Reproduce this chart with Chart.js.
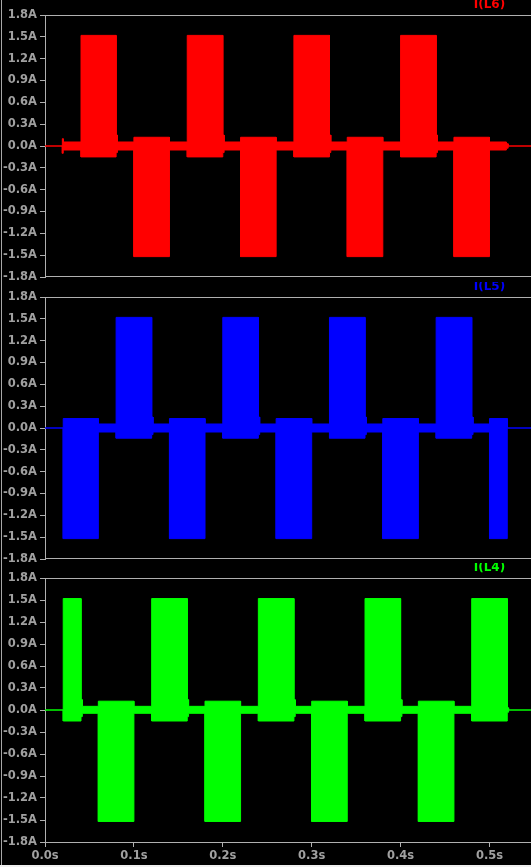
<!DOCTYPE html>
<html><head><meta charset="utf-8">
<script src="https://cdn.jsdelivr.net/npm/chart.js@4.4.1/dist/chart.umd.min.js"></script>
<style>
html,body{margin:0;padding:0;background:#000;width:531px;height:867px;overflow:hidden;position:relative}
canvas{position:absolute;left:0}
#lb{position:absolute;left:1px;top:0;width:1px;height:865px;background:#a8a8a8;z-index:5}
#bb{position:absolute;left:0;top:865px;width:531px;height:2px;background:#f0f0f0;z-index:5}
</style></head><body>
<canvas id="c6" width="531" height="287" style="top:0px"></canvas>
<canvas id="c5" width="531" height="287" style="top:282px"></canvas>
<canvas id="c4" width="531" height="304" style="top:563px"></canvas>
<div id="lb"></div><div id="bb"></div>
<script>
// ---- axis ticks ----
const yTickValues = [-1.8, -1.5, -1.2, -0.9, -0.6, -0.3, 0.0, 0.3, 0.6, 0.9, 1.2, 1.5, 1.8];
const xTickValues = [0.0, 0.1, 0.2, 0.3, 0.4, 0.5];
const xMax = 0.5467;

// ---- I(L6) envelope: segment edges (s), max and min current (A) per segment ----
const l6Edges = [0, 0.0195, 0.0205, 0.0405, 0.080, 0.0815, 0.100, 0.140, 0.160, 0.200, 0.2015, 0.220, 0.260, 0.280, 0.320, 0.3215, 0.340, 0.380, 0.400, 0.440, 0.4415, 0.460, 0.500, 0.519, 0.521, 0.547];
const l6Max   = [0, 0.10, 0.055, 1.52, 0.15, 0.055, 0.12, 0.055, 1.52, 0.15, 0.055, 0.12, 0.055, 1.52, 0.15, 0.055, 0.12, 0.055, 1.52, 0.15, 0.055, 0.12, 0.055, 0.03, 0.0];
const l6Min   = [0, -0.10, -0.055, -0.15, -0.09, -0.055, -1.52, -0.055, -0.15, -0.09, -0.055, -1.52, -0.055, -0.15, -0.09, -0.055, -1.52, -0.055, -0.15, -0.09, -0.055, -1.52, -0.055, -0.03, 0.0];

// ---- I(L5) ----
const l5Edges = [0, 0.0205, 0.060, 0.080, 0.120, 0.1215, 0.140, 0.180, 0.200, 0.240, 0.2415, 0.260, 0.300, 0.320, 0.360, 0.3615, 0.380, 0.420, 0.440, 0.480, 0.4815, 0.500, 0.520, 0.547];
const l5Max   = [0, 0.13, 0.055, 1.52, 0.15, 0.055, 0.13, 0.055, 1.52, 0.15, 0.055, 0.13, 0.055, 1.52, 0.15, 0.055, 0.13, 0.055, 1.52, 0.15, 0.055, 0.13, 0.0];
const l5Min   = [0, -1.52, -0.055, -0.14, -0.09, -0.055, -1.52, -0.055, -0.14, -0.09, -0.055, -1.52, -0.055, -0.14, -0.09, -0.055, -1.52, -0.055, -0.14, -0.09, -0.055, -1.52, 0.0];

// ---- I(L4) ----
const l4Edges = [0, 0.0205, 0.0405, 0.042, 0.060, 0.100, 0.120, 0.160, 0.1615, 0.180, 0.220, 0.240, 0.280, 0.2815, 0.300, 0.340, 0.360, 0.400, 0.4015, 0.420, 0.460, 0.480, 0.520, 0.5215, 0.547];
const l4Max   = [0, 1.52, 0.14, 0.05, 0.12, 0.05, 1.52, 0.14, 0.05, 0.12, 0.05, 1.52, 0.14, 0.05, 0.12, 0.05, 1.52, 0.14, 0.05, 0.12, 0.05, 1.52, 0.03, 0.0];
const l4Min   = [0, -0.15, -0.09, -0.045, -1.52, -0.045, -0.15, -0.09, -0.045, -1.52, -0.045, -0.15, -0.09, -0.045, -1.52, -0.045, -0.15, -0.09, -0.045, -1.52, -0.045, -0.15, -0.03, 0.0];

const AXIS = '#b0b0b0';
const TEXT = '#a0a0a0';
const FONT = { family: 'DejaVu Sans', weight: 'bold', size: 11.5 };

function envelope(edges, vals) {
  const pts = [];
  for (let i = 0; i < vals.length; i++) {
    pts.push({ x: edges[i], y: vals[i] });
    pts.push({ x: edges[i + 1], y: vals[i] });
  }
  return pts;
}
function fmt(v, unit) {
  if (Math.abs(v) < 1e-9) v = 0;
  return v.toFixed(1) + unit;
}

const framePlugin = {
  id: 'frame',
  afterDraw(chart, args, opts) {
    const { ctx, chartArea: a } = chart;
    ctx.save();
    ctx.strokeStyle = AXIS;
    ctx.lineWidth = 1;
    ctx.beginPath();
    ctx.moveTo(a.left, a.top + 0.5); ctx.lineTo(a.right, a.top + 0.5);
    if (!opts.showX) { ctx.moveTo(a.left, a.bottom - 0.5); ctx.lineTo(a.right, a.bottom - 0.5); }
    ctx.stroke();
    ctx.fillStyle = opts.color;
    ctx.font = 'bold 12px "DejaVu Sans"';
    ctx.textAlign = 'center';
    ctx.textBaseline = 'middle';
    ctx.fillText(opts.label, chart.scales.x.getPixelForValue(0.5), a.top - 10);
    ctx.restore();
  }
};

function makeChart(id, edges, maxV, minV, color, label, showX) {
  new Chart(document.getElementById(id), {
    type: 'line',
    data: {
      datasets: [
        { data: envelope(edges, maxV), borderColor: color, backgroundColor: color, borderWidth: 1, pointRadius: 0, fill: '+1', tension: 0 },
        { data: envelope(edges, minV), borderColor: color, backgroundColor: color, borderWidth: 1, pointRadius: 0, fill: false, tension: 0 }
      ]
    },
    options: {
      responsive: false,
      animation: false,
      devicePixelRatio: 1,
      layout: { padding: { top: 15, bottom: showX ? 0 : 10, left: 0, right: 0 } },
      plugins: { legend: { display: false }, tooltip: { enabled: false }, frame: { label, color, showX } },
      scales: {
        x: {
          type: 'linear', min: 0, max: xMax,
          display: showX,
          afterBuildTicks: s => { s.ticks = xTickValues.map(v => ({ value: v })); },
          afterFit: s => { s.height = showX ? 25 : 0; },
          grid: { display: true, drawOnChartArea: false, drawTicks: true, tickLength: 5, color: AXIS, tickColor: AXIS },
          border: { display: true, color: AXIS, width: 1 },
          ticks: { color: TEXT, font: FONT, padding: 2, autoSkip: false, maxRotation: 0, callback: v => fmt(v, 's') }
        },
        y: {
          type: 'linear', min: -1.8, max: 1.8,
          afterBuildTicks: s => { s.ticks = yTickValues.map(v => ({ value: v })); },
          afterFit: s => { s.width = 45; },
          grid: { display: true, drawOnChartArea: false, drawTicks: true, tickLength: 5, color: AXIS, tickColor: AXIS },
          border: { display: true, color: AXIS, width: 1 },
          ticks: { color: TEXT, font: FONT, padding: 3, autoSkip: false, callback: v => fmt(v, 'A') }
        }
      }
    },
    plugins: [framePlugin]
  });
}

makeChart('c6', l6Edges, l6Max, l6Min, '#ff0000', 'I(L6)', false);
makeChart('c5', l5Edges, l5Max, l5Min, '#0000ff', 'I(L5)', false);
makeChart('c4', l4Edges, l4Max, l4Min, '#00ff00', 'I(L4)', true);
</script>
</body></html>
